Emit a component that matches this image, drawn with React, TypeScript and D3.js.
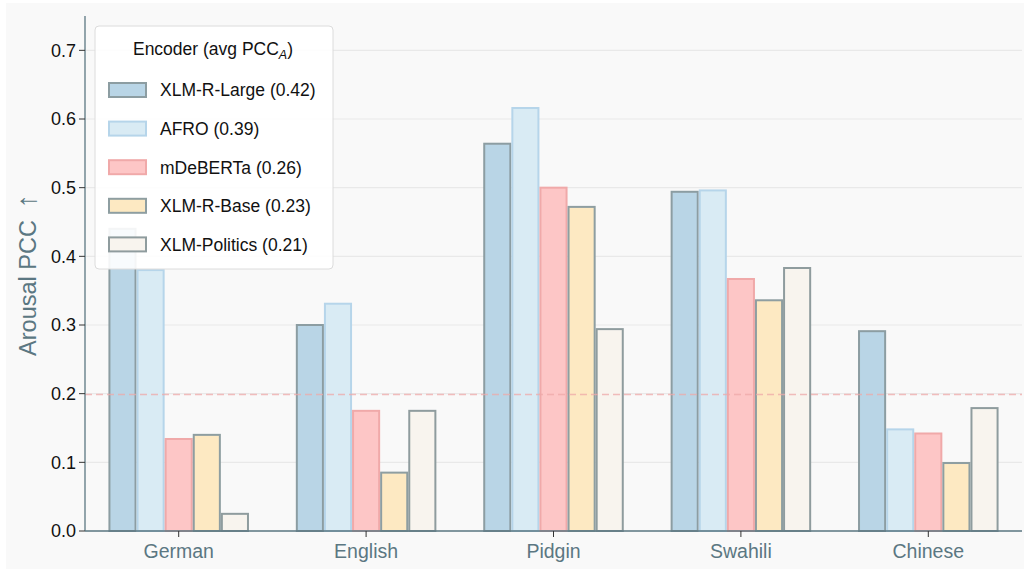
import React from "react";
import * as d3 from "d3";

const languages = ["German", "English", "Pidgin", "Swahili", "Chinese"];
const encoders = ["XLM-R-Large", "AFRO", "mDeBERTa", "XLM-R-Base", "XLM-Politics"];
const avgPCC = ["0.42", "0.39", "0.26", "0.23", "0.21"];
const xlmrLarge = [0.44, 0.3, 0.564, 0.494, 0.291];
const afro = [0.38, 0.331, 0.616, 0.496, 0.148];
const mdeberta = [0.134, 0.175, 0.5, 0.367, 0.142];
const xlmrBase = [0.14, 0.085, 0.472, 0.336, 0.099];
const xlmPolitics = [0.025, 0.175, 0.294, 0.383, 0.179];
const yTicks = [0, 0.1, 0.2, 0.3, 0.4, 0.5, 0.6, 0.7];
const refLine = 0.2;

const seriesValues = [xlmrLarge, afro, mdeberta, xlmrBase, xlmPolitics];
const fills = ["#b9d5e6", "#d9ebf4", "#fdc6c6", "#fde9c2", "#f8f4ee"];
const strokes = ["#8c9da2", "#b6d5ea", "#f0a9a9", "#8e9ea1", "#8f9c9e"];

const W = 1025;
const H = 570;
const left = 85;
const right = 1022;
const top = 16;
const bottom = 531;
const font = "'Liberation Sans', Arial, Helvetica, sans-serif";
const slate = "#5b7782";

export default function App() {
  const x = d3.scaleBand<string>().domain(languages).range([left, right]).paddingInner(0.25).paddingOuter(0.125);
  const inner = d3.scaleBand<string>().domain(encoders).range([0, x.bandwidth()]).padding(0);
  const y = d3.scaleLinear().domain([0, 0.75]).range([bottom, top]);
  const sw = 2;
  const refY = Math.round(y(refLine)) + 0.5;

  return (
    <svg width={W} height={H} style={{ position: "absolute", left: 0, top: 0, fontFamily: font }}>
      <rect x={0} y={0} width={W} height={H} fill="#ffffff" />
      <rect x={6} y={3} width={W - 7} height={H - 4} fill="#f9f9f9" />
      {/* gridlines */}
      {yTicks.map((t) => (
        <line key={"g" + t} x1={left} x2={right} y1={y(t)} y2={y(t)} stroke="#e9e9e9" strokeWidth={1.2} />
      ))}
      {/* bars */}
      {encoders.map((enc, si) =>
        languages.map((lang, li) => {
          const v = seriesValues[si][li];
          const bx = (x(lang) as number) + (inner(enc) as number);
          return (
            <rect
              key={enc + lang}
              x={bx + sw / 2}
              y={y(v)}
              width={inner.bandwidth() - sw}
              height={y(0) - y(v)}
              fill={fills[si]}
              stroke={strokes[si]}
              strokeWidth={sw}
            />
          );
        })
      )}
      {/* reference line */}
      <line x1={left} x2={right} y1={refY} y2={refY} stroke="#eea8a8" strokeOpacity={0.75} strokeWidth={1.5} strokeDasharray="7,4" />
      {/* spines */}
      <line x1={left} x2={left} y1={top} y2={bottom} stroke={slate} strokeWidth={1.3} />
      <line x1={left} x2={right} y1={bottom} y2={bottom} stroke={slate} strokeWidth={1.3} />
      {/* y ticks */}
      {yTicks.map((t) => (
        <g key={"t" + t}>
          <line x1={left - 6} x2={left} y1={y(t)} y2={y(t)} stroke="#333" strokeWidth={1} />
          <text x={left - 9} y={y(t)} dy="0.36em" textAnchor="end" fontSize={18} fill="#111">
            {d3.format(".1f")(t)}
          </text>
        </g>
      ))}
      {/* x ticks */}
      {languages.map((lang) => {
        const cx = (x(lang) as number) + x.bandwidth() / 2;
        return (
          <g key={"x" + lang}>
            <line x1={cx} x2={cx} y1={bottom} y2={bottom + 6} stroke="#333" strokeWidth={1} />
            <text x={cx} y={558} textAnchor="middle" fontSize={19.5} fill={slate}>
              {lang}
            </text>
          </g>
        );
      })}
      {/* y label */}
      <text transform={`translate(36,275) rotate(-90)`} textAnchor="middle" fontSize={23.5} fill={slate}>
        Arousal PCC
        <tspan dx={12} fontSize={28}>↑</tspan>
      </text>
      {/* legend */}
      <g>
        <rect x={95} y={26} width={238} height={243} rx={4} fill="#ffffff" fillOpacity={0.9} stroke="#dcdcdc" strokeWidth={1} />
        <text x={213} y={55} textAnchor="middle" fontSize={17.5} fill="#111">
          Encoder (avg PCC
          <tspan fontSize={12.5} dy={4} fontStyle="italic">A</tspan>
          <tspan dy={-4}>)</tspan>
        </text>
        {encoders.map((enc, i) => {
          const cy = 90 + i * 38.6;
          return (
            <g key={"l" + enc}>
              <rect x={109} y={cy - 7} width={37} height={14} fill={fills[i]} stroke={strokes[i]} strokeWidth={sw} />
              <text x={160} y={cy} dy="0.36em" fontSize={17.5} fill="#111">
                {enc} ({avgPCC[i]})
              </text>
            </g>
          );
        })}
      </g>
    </svg>
  );
}
